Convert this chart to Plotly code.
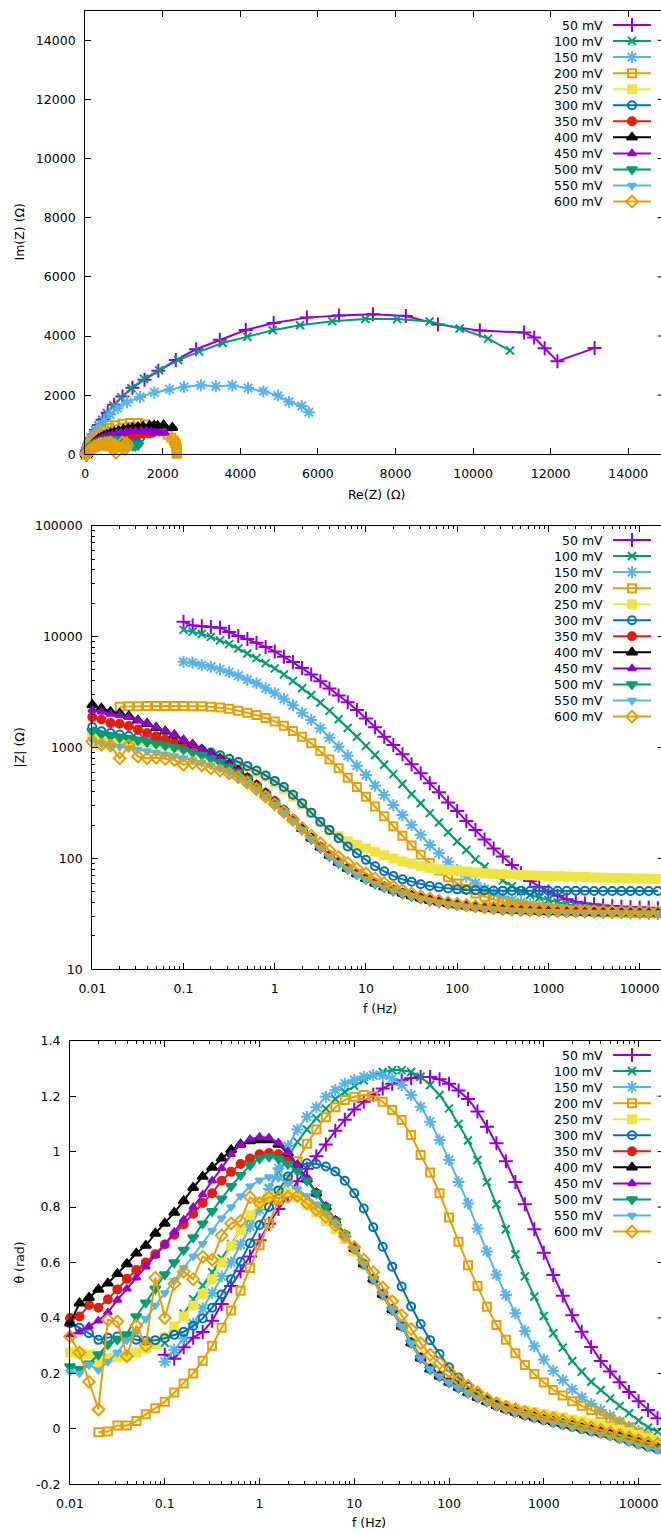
import math
import plotly.graph_objects as go

W, H = 661, 1533

# Measurement frequencies (Hz), 10 points per decade
FREQ = [0.01, 0.012589, 0.015849, 0.019953, 0.025119, 0.031623, 0.039811, 0.050119, 0.063096, 0.079433,
        0.1, 0.12589, 0.15849, 0.19953, 0.25119, 0.31623, 0.39811, 0.50119, 0.63096, 0.79433,
        1.0, 1.2589, 1.5849, 1.9953, 2.5119, 3.1623, 3.9811, 5.0119, 6.3096, 7.9433,
        10.0, 12.589, 15.849, 19.953, 25.119, 31.623, 39.811, 50.119, 63.096, 79.433,
        100.0, 125.89, 158.49, 199.53, 251.19, 316.23, 398.11, 501.19, 630.96, 794.33,
        1000.0, 1258.9, 1584.9, 1995.3, 2511.9, 3162.3, 3981.1, 5011.9, 6309.6, 7943.3,
        10000.0, 12589.0, 15849.0]

LABELS = ["50 mV", "100 mV", "150 mV", "200 mV", "250 mV", "300 mV",
          "350 mV", "400 mV", "450 mV", "500 mV", "550 mV", "600 mV"]

# index into FREQ of the first point of each sweep
START = [10, 10, 10, 3, 0, 0, 0, 0, 0, 0, 0, 0]

# |Z| in ohm
ZMOD_050 = [13615, 12575, 12377, 12232, 12042, 11000, 10100, 9500, 8800, 8050,
            7350, 6580, 5900, 5200, 4560, 3950, 3400, 2950, 2560, 2180,
            1830, 1520, 1252, 1053, 868, 705, 585, 475, 394, 320,
            268, 217, 180, 148, 123, 104, 87, 73.3, 62.5, 55.6,
            50.3, 46.0, 42.8, 40.7, 39.3, 38.5, 37.6, 37.1, 36.7, 36.3,
            36.0, 35.8, 35.6]
ZMOD_100 = [11500, 11100, 10550, 9950, 9250, 8550, 7800, 7050, 6400, 5770,
            5170, 4550, 3990, 3420, 2970, 2530, 2140, 1800, 1500, 1250,
            1035, 856, 700, 575, 468, 380, 314, 256, 211, 172,
            142, 119, 98, 84, 72, 63, 56, 50.5, 46.8, 44.3,
            42.2, 40.3, 38.6, 37.3, 36.3, 35.4, 34.7, 34.0, 33.5, 33.0,
            32.6, 32.2, 31.9]
ZMOD_150 = [5940, 5815, 5545, 5350, 5065, 4760, 4450, 4080, 3790, 3420,
            3090, 2750, 2400, 2061, 1769, 1489, 1226, 1017, 844, 686,
            565, 453, 373, 303, 246, 200, 163, 132, 111, 93.5,
            78.6, 68.5, 59.6, 53, 48.4, 45.2, 42.2, 40.2, 38.5, 37.3,
            36.3, 35.3, 34.6, 33.9, 33.4, 33.0, 32.5, 32.3, 32.1, 31.9,
            31.8, 31.6, 31.5]
ZMOD_200 = [2334, 2350, 2360, 2365, 2370, 2370, 2370, 2365, 2360, 2350,
            2330, 2290, 2230, 2150, 2060, 1960, 1845, 1720, 1570, 1410,
            1250, 1090, 930, 780, 650, 535, 440, 360, 293, 240,
            195, 160, 131, 108, 91, 78, 67.5, 59.5, 53, 48.3,
            45, 42.5, 40.5, 39, 37.8, 36.8, 36, 35.3, 34.8, 34.3,
            33.9, 33.6, 33.3, 33.1, 32.9, 32.7, 32.5, 32.4, 32.3, 32.2]
ZMOD_250 = [1296, 1250, 1225, 1190, 1170, 1150, 1120, 1090, 1060, 1030,
            995, 955, 915, 870, 825, 775, 720, 665, 605, 545,
            480, 420, 362, 308, 258, 213, 180, 158, 143, 132,
            123, 115, 107, 100, 94, 90, 85.5, 82, 80, 78.5,
            77.2, 76, 74.8, 73.5, 72.8, 72.1, 71.5, 70.9, 70.4, 69.9,
            69.4, 69.0, 68.6, 68.2, 67.8, 67.4, 67.0, 66.7, 66.4, 66.1,
            65.8, 65.5, 65.2]
ZMOD_300 = [1530, 1400, 1350, 1310, 1270, 1230, 1190, 1150, 1110, 1070,
            1030, 990, 950, 900, 850, 790, 740, 680, 620, 560,
            500, 440, 375, 314, 258, 214, 180, 152, 128, 111,
            97, 85, 76.5, 69.5, 64.7, 61.6, 58.5, 56.3, 54.8, 53.5,
            52.6, 52.0, 51.6, 51.4, 51.3, 51.2, 51.2, 51.1, 51.1, 51.1,
            51.0, 51.0, 51.0, 51.0, 51.0, 50.9, 50.9, 50.9, 50.9, 50.9,
            50.9, 50.9, 50.9]
ZMOD_350 = [1880, 1790, 1660, 1640, 1560, 1450, 1350, 1260, 1180, 1110,
            1050, 985, 915, 845, 775, 700, 620, 535, 458, 388,
            327, 273, 226, 186, 153, 127, 107, 92.5, 81.5, 73,
            66, 60.2, 55.5, 51.8, 48.6, 46.0, 43.8, 41.9, 40.4, 39.1,
            38.0, 37.1, 36.3, 35.6, 35.0, 34.5, 34.1, 33.8, 33.5, 33.3,
            33.1, 32.9, 32.8, 32.7, 32.6, 32.5, 32.4, 32.4, 32.3, 32.3,
            32.2, 32.2, 32.1]
ZMOD_400 = [2420, 2250, 2100, 2030, 1920, 1760, 1640, 1510, 1400, 1290,
            1160, 1060, 960, 870, 790, 700, 615, 530, 455, 385,
            325, 272, 225, 185, 152, 126, 106, 92, 81, 72.5,
            65.5, 59.8, 55.2, 51.6, 48.4, 45.8, 43.7, 41.8, 40.3, 39.0,
            38.0, 37.1, 36.3, 35.6, 35.0, 34.5, 34.1, 33.8, 33.5, 33.3,
            33.1, 33.0, 32.9, 32.8, 32.7, 32.6, 32.5, 32.5, 32.4, 32.4,
            32.3, 32.3, 32.2]
ZMOD_450 = [2180, 2100, 2010, 1950, 1870, 1760, 1650, 1520, 1410, 1300,
            1170, 1065, 965, 875, 790, 700, 612, 528, 452, 382,
            322, 270, 223, 184, 151, 125, 105.5, 91.5, 80.7, 72.2,
            65.2, 59.6, 55.0, 51.4, 48.2, 45.6, 43.5, 41.7, 40.2, 38.9,
            37.9, 37.0, 36.2, 35.5, 34.9, 34.4, 34.0, 33.7, 33.4, 33.2,
            33.0, 32.9, 32.8, 32.7, 32.6, 32.5, 32.4, 32.4, 32.3, 32.3,
            32.2, 32.2, 32.1]
ZMOD_500 = [1400, 1320, 1270, 1230, 1200, 1160, 1120, 1080, 1040, 1000,
            955, 905, 855, 795, 735, 668, 597, 522, 447, 378,
            318, 266, 220, 181, 149, 124, 104.5, 90.5, 80, 71.7,
            64.8, 59.2, 54.7, 51.1, 48.0, 45.4, 43.3, 41.5, 40.0, 38.8,
            37.8, 36.9, 36.1, 35.4, 34.8, 34.3, 33.9, 33.6, 33.3, 33.1,
            32.9, 32.8, 32.7, 32.6, 32.5, 32.4, 32.3, 32.3, 32.2, 32.2,
            32.1, 32.1, 32.0]
ZMOD_550 = [1170, 1090, 1050, 1020, 990, 960, 930, 900, 870, 840,
            805, 770, 730, 690, 645, 595, 540, 480, 420, 360,
            305, 258, 216, 180, 149, 124, 104, 90, 79.5, 71.2,
            64.5, 59, 54.5, 51, 47.9, 45.4, 43.3, 41.5, 40.0, 38.8,
            37.8, 36.9, 36.1, 35.4, 34.8, 34.3, 33.9, 33.6, 33.3, 33.1,
            32.9, 32.8, 32.7, 32.6, 32.5, 32.4, 32.3, 32.3, 32.2, 32.2,
            32.1, 32.1, 32.0]
ZMOD_600 = [1130, 1060, 1040, 800, 1040, 830, 800, 810, 790, 770,
            700, 720, 690, 650, 620, 585, 540, 480, 420, 360,
            310, 262, 222, 188, 160, 137, 118, 103, 91, 81,
            73, 66, 60, 55.5, 51.5, 48.3, 45.6, 43.4, 41.6, 40.1,
            38.9, 37.9, 37.1, 36.4, 35.9, 35.4, 35.0, 34.7, 34.4, 34.2,
            34.0, 33.8, 33.7, 33.6, 33.5, 33.4, 33.3, 33.2, 33.1, 33.0,
            33.0, 32.9, 32.9]

# phase angle theta in rad
PHASE_050 = [0.267, 0.253, 0.294, 0.329, 0.349, 0.39, 0.45, 0.515, 0.568, 0.622,
             0.68, 0.74, 0.793, 0.84, 0.893, 0.938, 0.983, 1.026, 1.075, 1.115,
             1.152, 1.18, 1.205, 1.228, 1.245, 1.257, 1.265, 1.269, 1.269, 1.261,
             1.245, 1.22, 1.19, 1.145, 1.09, 1.03, 0.965, 0.89, 0.81, 0.72,
             0.635, 0.555, 0.48, 0.41, 0.35, 0.295, 0.245, 0.207, 0.168, 0.133,
             0.1, 0.068, 0.038]
PHASE_100 = [0.31, 0.36, 0.415, 0.468, 0.517, 0.565, 0.615, 0.667, 0.715, 0.76,
             0.815, 0.868, 0.925, 0.98, 1.035, 1.08, 1.12, 1.155, 1.19, 1.215,
             1.237, 1.257, 1.275, 1.287, 1.294, 1.294, 1.287, 1.27, 1.24, 1.204,
             1.156, 1.10, 1.04, 0.97, 0.89, 0.81, 0.72, 0.63, 0.55, 0.477,
             0.407, 0.345, 0.293, 0.245, 0.206, 0.17, 0.14, 0.11, 0.083, 0.056,
             0.03, 0.005, -0.01]
PHASE_150 = [0.242, 0.285, 0.326, 0.38, 0.435, 0.49, 0.55, 0.60, 0.665, 0.73,
             0.79, 0.865, 0.94, 1.02, 1.08, 1.126, 1.16, 1.198, 1.222, 1.246,
             1.258, 1.27, 1.276, 1.274, 1.264, 1.24, 1.204, 1.162, 1.108, 1.042,
             0.97, 0.89, 0.813, 0.723, 0.64, 0.556, 0.483, 0.417, 0.353, 0.298,
             0.25, 0.21, 0.176, 0.143, 0.114, 0.09, 0.068, 0.047, 0.026, 0.008,
             -0.008, -0.028, -0.046]
PHASE_200 = [-0.012, -0.01, 0.012, 0.012, 0.028, 0.053, 0.074, 0.098, 0.131, 0.164,
             0.20, 0.246, 0.30, 0.365, 0.427, 0.498, 0.58, 0.662, 0.741, 0.825,
             0.90, 0.965, 1.028, 1.08, 1.124, 1.16, 1.186, 1.198, 1.204, 1.20,
             1.18, 1.15, 1.114, 1.06, 0.988, 0.925, 0.85, 0.762, 0.675, 0.59,
             0.515, 0.44, 0.375, 0.321, 0.273, 0.23, 0.198, 0.167, 0.14, 0.12,
             0.10, 0.083, 0.068, 0.053, 0.038, 0.023, 0.006, -0.013, -0.028, -0.045]
PHASE_250 = [0.275, 0.272, 0.268, 0.24, 0.255, 0.258, 0.262, 0.275, 0.29, 0.306,
             0.33, 0.369, 0.405, 0.445, 0.487, 0.54, 0.60, 0.66, 0.717, 0.77,
             0.813, 0.84, 0.853, 0.85, 0.835, 0.81, 0.78, 0.75, 0.72, 0.685,
             0.64, 0.59, 0.535, 0.48, 0.425, 0.37, 0.315, 0.265, 0.225, 0.195,
             0.172, 0.153, 0.135, 0.12, 0.106, 0.094, 0.083, 0.074, 0.066, 0.06,
             0.054, 0.047, 0.041, 0.034, 0.027, 0.02, 0.013, 0.005, -0.003, -0.012,
             -0.022, -0.032, -0.04]
PHASE_300 = [0.381, 0.365, 0.345, 0.321, 0.329, 0.333, 0.33, 0.321, 0.318, 0.32,
             0.327, 0.339, 0.35, 0.371, 0.398, 0.437, 0.485, 0.54, 0.603, 0.669,
             0.735, 0.80, 0.86, 0.91, 0.945, 0.958, 0.955, 0.946, 0.928, 0.895,
             0.85, 0.795, 0.727, 0.657, 0.585, 0.513, 0.441, 0.378, 0.32, 0.27,
             0.222, 0.185, 0.152, 0.126, 0.104, 0.087, 0.072, 0.06, 0.049, 0.04,
             0.031, 0.023, 0.015, 0.007, -0.001, -0.009, -0.017, -0.025, -0.035, -0.045,
             -0.055, -0.065, -0.073]
PHASE_350 = [0.40, 0.405, 0.447, 0.437, 0.467, 0.503, 0.541, 0.573, 0.60, 0.63,
             0.665, 0.70, 0.738, 0.776, 0.815, 0.85, 0.895, 0.927, 0.955, 0.975,
             0.99, 0.995, 0.99, 0.975, 0.945, 0.9, 0.85, 0.80, 0.75, 0.70,
             0.65, 0.595, 0.54, 0.485, 0.43, 0.37, 0.31, 0.256, 0.216, 0.19,
             0.168, 0.148, 0.13, 0.113, 0.098, 0.083, 0.071, 0.06, 0.05, 0.042,
             0.033, 0.026, 0.018, 0.011, 0.003, -0.005, -0.013, -0.021, -0.03, -0.04,
             -0.05, -0.06, -0.07]
PHASE_400 = [0.381, 0.453, 0.473, 0.503, 0.525, 0.559, 0.595, 0.633, 0.661, 0.705,
             0.741, 0.78, 0.822, 0.87, 0.91, 0.943, 0.976, 1.006, 1.026, 1.038,
             1.042, 1.042, 1.026, 0.994, 0.95, 0.9, 0.85, 0.80, 0.75, 0.70,
             0.65, 0.595, 0.54, 0.485, 0.43, 0.37, 0.31, 0.255, 0.215, 0.19,
             0.168, 0.148, 0.13, 0.113, 0.098, 0.083, 0.071, 0.06, 0.05, 0.042,
             0.033, 0.026, 0.018, 0.011, 0.003, -0.005, -0.013, -0.021, -0.03, -0.04,
             -0.05, -0.06, -0.07]
PHASE_450 = [0.34, 0.35, 0.37, 0.39, 0.42, 0.465, 0.505, 0.545, 0.585, 0.625,
             0.665, 0.71, 0.755, 0.80, 0.845, 0.895, 0.94, 0.99, 1.025, 1.045,
             1.053, 1.05, 1.032, 0.998, 0.952, 0.902, 0.852, 0.802, 0.752, 0.702,
             0.651, 0.596, 0.541, 0.486, 0.43, 0.37, 0.31, 0.254, 0.214, 0.189,
             0.167, 0.147, 0.129, 0.112, 0.097, 0.082, 0.07, 0.059, 0.049, 0.041,
             0.032, 0.025, 0.017, 0.01, 0.002, -0.006, -0.014, -0.022, -0.031, -0.041,
             -0.051, -0.061, -0.071]
PHASE_500 = [0.225, 0.215, 0.235, 0.268, 0.305, 0.322, 0.34, 0.405, 0.455, 0.505,
             0.557, 0.60, 0.645, 0.69, 0.74, 0.785, 0.83, 0.875, 0.915, 0.95,
             0.975, 0.982, 0.975, 0.955, 0.93, 0.895, 0.85, 0.80, 0.75, 0.70,
             0.65, 0.595, 0.54, 0.485, 0.43, 0.37, 0.31, 0.255, 0.215, 0.19,
             0.168, 0.148, 0.13, 0.113, 0.098, 0.083, 0.071, 0.06, 0.05, 0.042,
             0.033, 0.026, 0.018, 0.011, 0.003, -0.005, -0.013, -0.021, -0.03, -0.04,
             -0.05, -0.06, -0.07]
PHASE_550 = [0.206, 0.2, 0.232, 0.212, 0.242, 0.275, 0.32, 0.35, 0.397, 0.445,
             0.49, 0.535, 0.58, 0.622, 0.668, 0.715, 0.76, 0.80, 0.84, 0.875,
             0.897, 0.908, 0.905, 0.885, 0.865, 0.84, 0.81, 0.775, 0.74, 0.695,
             0.65, 0.595, 0.54, 0.485, 0.43, 0.37, 0.31, 0.255, 0.215, 0.19,
             0.167, 0.147, 0.128, 0.111, 0.095, 0.08, 0.068, 0.057, 0.047, 0.038,
             0.029, 0.021, 0.013, 0.005, -0.003, -0.011, -0.02, -0.029, -0.039, -0.049,
             -0.059, -0.068, -0.077]
PHASE_600 = [0.333, 0.275, 0.17, 0.07, 0.393, 0.387, 0.262, 0.373, 0.3, 0.545,
             0.4, 0.523, 0.567, 0.54, 0.621, 0.61, 0.697, 0.741, 0.75, 0.835,
             0.815, 0.835, 0.833, 0.837, 0.84, 0.813, 0.79, 0.765, 0.735, 0.695,
             0.655, 0.61, 0.565, 0.51, 0.46, 0.41, 0.36, 0.309, 0.267, 0.237,
             0.207, 0.177, 0.155, 0.131, 0.108, 0.092, 0.08, 0.071, 0.062, 0.053,
             0.044, 0.038, 0.03, 0.02, 0.014, 0.005, -0.004, -0.013, -0.022, -0.031,
             -0.04, -0.05, -0.054]

ZMOD = [ZMOD_050, ZMOD_100, ZMOD_150, ZMOD_200, ZMOD_250, ZMOD_300,
        ZMOD_350, ZMOD_400, ZMOD_450, ZMOD_500, ZMOD_550, ZMOD_600]
PHASE = [PHASE_050, PHASE_100, PHASE_150, PHASE_200, PHASE_250, PHASE_300,
         PHASE_350, PHASE_400, PHASE_450, PHASE_500, PHASE_550, PHASE_600]

# gnuplot-like line colours and point types
COLORS = ["#9400d3", "#009e73", "#56b4e9", "#e69f00", "#f0e442", "#0072b2",
          "#e51e10", "#000000", "#9400d3", "#009e73", "#56b4e9", "#e69f00"]
SYMBOLS = [("cross-thin", 10), ("x-thin", 8), ("asterisk", 10), ("square-open", 8),
           ("square", 8), ("circle-open", 8), ("circle", 8), ("triangle-up", 9),
           ("triangle-up", 7), ("triangle-down", 9), ("triangle-down", 7), ("diamond-open", 9)]
LW = 2.0

FONT = dict(family="DejaVu Sans", size=12.5, color="black")

# panel frames in pixels: left edge, top, bottom (all run past the right edge)
PANELS = {
    "nyq": dict(left=85.2, top=10.7, bottom=454.3),
    "mag": dict(left=92.3, top=525.7, bottom=969.3),
    "pha": dict(left=70.0, top=1040.7, bottom=1484.3),
}


def xdom(p):
    return [p["left"] / W, 1.0]


def ydom(p):
    return [1 - p["bottom"] / H, 1 - p["top"] / H]


def marker(i):
    sym, size = SYMBOLS[i]
    return dict(symbol=sym, size=size, color=COLORS[i], line=dict(color=COLORS[i], width=LW))


fig = go.Figure()

for i, lab in enumerate(LABELS):
    f = FREQ[START[i]:]
    z = ZMOD[i]
    th = PHASE[i]
    re = [a * math.cos(b) for a, b in zip(z, th)]
    im = [a * math.sin(b) for a, b in zip(z, th)]
    style = dict(mode="lines+markers", line=dict(color=COLORS[i], width=LW), marker=marker(i),
                 showlegend=False, cliponaxis=False, name=lab)
    fig.add_trace(go.Scatter(x=re, y=im, xaxis="x", yaxis="y", **style))
    fig.add_trace(go.Scatter(x=f, y=z, xaxis="x2", yaxis="y2", **style))
    fig.add_trace(go.Scatter(x=f, y=th, xaxis="x3", yaxis="y3", **style))

# key: right-aligned text followed by a line sample, one block per panel
KEY_TOP = [25.0, 540.0, 1055.0]
KEY_STEP = 16.05
annotations = []
for i, lab in enumerate(LABELS):
    rows = [t + KEY_STEP * i for t in KEY_TOP]
    lx, ly = [], []
    for r in rows:
        lx += [613, 651, None]
        ly += [r, r, None]
        annotations.append(dict(text=lab, x=605 / W, y=1 - r / H, xref="paper", yref="paper",
                                xanchor="right", yanchor="middle", showarrow=False, font=FONT))
    fig.add_trace(go.Scatter(x=lx, y=ly, mode="lines", line=dict(color=COLORS[i], width=LW),
                             xaxis="x4", yaxis="y4", showlegend=False, hoverinfo="skip"))
    fig.add_trace(go.Scatter(x=[632] * 3, y=rows, mode="markers", marker=marker(i),
                             xaxis="x4", yaxis="y4", showlegend=False, hoverinfo="skip",
                             cliponaxis=False))

# axis titles
for text, px, py, ang in [("Re(Z) (Ω)", 376, 494, 0), ("Im(Z) (Ω)", 19, 232.5, -90),
                          ("|Z| (Ω)", 19, 747.5, -90), ("f (Hz)", 380, 1008, 0),
                          ("θ (rad)", 19, 1262.5, -90), ("f (Hz)", 368.5, 1522, 0)]:
    annotations.append(dict(text=text, x=px / W, y=1 - py / H, xref="paper", yref="paper",
                            xanchor="center", yanchor="middle", showarrow=False,
                            textangle=ang, font=FONT))

# minor tick positions for the logarithmic axes
minor_f = [m * 10 ** e for e in range(-2, 5) for m in range(2, 10)]
minor_z = [m * 10 ** e for e in range(1, 5) for m in range(2, 10)]

dec_f = [0.01, 0.1, 1, 10, 100, 1000, 10000]
dec_f_txt = ["0.01", "0.1", "1", "10", "100", "1000", "10000"]
dec_z = [10, 100, 1000, 10000, 100000]
lin_nyq = list(range(0, 15000, 2000))
lin_pha = [-0.2, 0, 0.2, 0.4, 0.6, 0.8, 1.0, 1.2, 1.4]
lin_pha_txt = ["-0.2", "0", "0.2", "0.4", "0.6", "0.8", "1", "1.2", "1.4"]


def axis(**kw):
    base = dict(showline=True, linecolor="black", linewidth=1.2, ticks="inside", ticklen=6,
                tickwidth=1, tickcolor="black", showgrid=False, zeroline=False,
                tickfont=FONT, fixedrange=True, automargin=False)
    base.update(kw)
    return base


minor_style = dict(ticks="inside", ticklen=3, tickwidth=1, tickcolor="black", showgrid=False)

R_NYQ_X = [0, 15000 * (W - PANELS["nyq"]["left"]) / (667 - PANELS["nyq"]["left"])]
R_MAG_X = [-2, -2 + 6.30 * (W - PANELS["mag"]["left"]) / (667 - PANELS["mag"]["left"])]
R_PHA_X = [-2, -2 + 6.30 * (W - PANELS["pha"]["left"]) / (667 - PANELS["pha"]["left"])]

fig.update_layout(
    width=W, height=H, margin=dict(l=0, r=0, t=0, b=0, pad=0, autoexpand=False),
    paper_bgcolor="white", plot_bgcolor="rgba(0,0,0,0)",
    font=FONT, showlegend=False,
    xaxis=axis(domain=xdom(PANELS["nyq"]), anchor="y", range=R_NYQ_X, mirror="ticks",
               tickvals=lin_nyq, ticktext=[str(v) for v in lin_nyq], ticklabelstandoff=8),
    yaxis=axis(domain=ydom(PANELS["nyq"]), anchor="x", range=[0, 15000],
               tickvals=lin_nyq, ticktext=[str(v) for v in lin_nyq], ticklabelstandoff=6),
    xaxis2=axis(domain=xdom(PANELS["mag"]), anchor="y2", type="log", range=R_MAG_X,
                mirror="ticks", tickvals=dec_f, ticktext=dec_f_txt, ticklabelstandoff=8,
                minor=dict(tickvals=minor_f, **minor_style)),
    yaxis2=axis(domain=ydom(PANELS["mag"]), anchor="x2", type="log", range=[1, 5],
                tickvals=dec_z, ticktext=[str(v) for v in dec_z], ticklabelstandoff=6,
                minor=dict(tickvals=minor_z, **minor_style)),
    xaxis3=axis(domain=xdom(PANELS["pha"]), anchor="y3", type="log", range=R_PHA_X,
                mirror="ticks", tickvals=dec_f, ticktext=dec_f_txt, ticklabelstandoff=8,
                minor=dict(tickvals=minor_f, **minor_style)),
    yaxis3=axis(domain=ydom(PANELS["pha"]), anchor="x3", range=[-0.2, 1.4],
                tickvals=lin_pha, ticktext=lin_pha_txt, ticklabelstandoff=6),
    xaxis4=dict(domain=[0, 1], range=[0, W], visible=False, fixedrange=True, automargin=False),
    yaxis4=dict(domain=[0, 1], range=[H, 0], visible=False, fixedrange=True, automargin=False),
    annotations=annotations,
)

# short tick stubs of the right-hand border where it meets the page edge
shapes = []


def right_stubs(p, vals, lo, hi, log=False):
    d0, d1 = ydom(p)
    for v in vals:
        t = math.log10(v) if log else v
        frac = d0 + (t - lo) / (hi - lo) * (d1 - d0)
        shapes.append(dict(type="line", xref="paper", yref="paper", x0=1 - 3.5 / W, x1=1,
                           y0=frac, y1=frac, line=dict(color="black", width=1)))


right_stubs(PANELS["nyq"], lin_nyq[1:], 0, 15000)
right_stubs(PANELS["mag"], dec_z[1:-1], 1, 5, log=True)
right_stubs(PANELS["pha"], lin_pha[1:-1], -0.2, 1.4)
fig.update_layout(shapes=shapes)

fig.write_html("out.html")
